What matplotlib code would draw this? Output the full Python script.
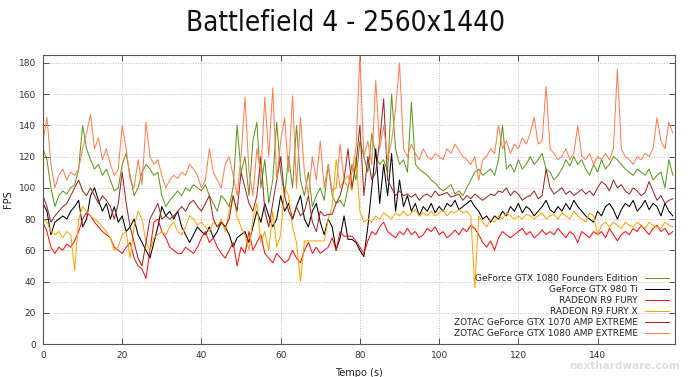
import matplotlib
matplotlib.use("Agg")
import matplotlib.pyplot as plt
import numpy as np

# Time axis, one sample per second
time_s = np.arange(160)

gtx1080_fe = [
    125, 118, 100, 88, 95, 98, 96, 100, 102, 112, 140, 125, 118, 112, 115, 108, 112, 105, 98, 100,
    115, 122, 108, 95, 100, 110, 115, 112, 108, 110, 95, 88, 92, 95, 98, 95, 100, 98, 102, 100,
    98, 102, 95, 90, 85, 95, 92, 88, 100, 140, 110, 120, 95, 130, 142, 100, 118, 90, 105, 142,
    110, 95, 120, 100, 140, 105, 95, 110, 88, 95, 100, 92, 115, 95, 90, 92, 88, 100, 115, 105,
    130, 120, 110, 135, 120, 115, 118, 110, 160, 125, 115, 118, 110, 155, 115, 112, 110, 108, 105, 103,
    100, 98, 100, 102, 96, 98, 95, 100, 105, 110, 112, 108, 110, 112, 108, 118, 140, 112, 115, 110,
    118, 112, 115, 120, 115, 118, 122, 112, 110, 105, 108, 112, 118, 114, 120, 115, 118, 112, 108, 115,
    110, 118, 112, 115, 120, 118, 115, 112, 110, 108, 112, 110, 108, 112, 105, 108, 110, 100, 118, 108,
]

gtx980ti = [
    90, 85, 70, 78, 80, 82, 80, 85, 88, 92, 75, 80, 95, 100, 92, 85, 90, 80, 88, 78,
    82, 72, 75, 80, 70, 65, 60, 55, 65, 75, 88, 82, 85, 80, 85, 75, 70, 65, 70, 75,
    72, 70, 75, 68, 72, 78, 75, 70, 62, 68, 70, 72, 65, 75, 85, 78, 90, 82, 75, 80,
    95, 85, 90, 80, 88, 95, 80, 75, 85, 90, 78, 70, 80, 75, 60, 68, 82, 67, 67, 65,
    60, 56, 75, 100, 125, 90, 115, 95, 122, 85, 105, 88, 95, 85, 90, 82, 88, 85, 90, 84,
    88, 85, 90, 88, 92, 86, 88, 90, 92, 88, 85, 80, 82, 78, 82, 80, 85, 82, 88, 85,
    90, 84, 88, 86, 82, 85, 88, 92, 86, 84, 88, 85, 90, 86, 92, 88, 85, 82, 80, 78,
    85, 82, 88, 90, 86, 80, 86, 90, 88, 92, 85, 88, 92, 86, 90, 88, 82, 90, 85, 82,
]

r9_fury = [
    78, 72, 62, 58, 62, 60, 64, 62, 66, 72, 80, 84, 82, 78, 75, 72, 70, 68, 62, 60,
    58, 62, 65, 55, 50, 48, 42, 60, 78, 80, 72, 68, 62, 60, 58, 58, 62, 60, 58, 62,
    68, 72, 65, 68, 62, 58, 55, 60, 65, 50, 62, 58, 72, 60, 65, 70, 58, 55, 52, 58,
    55, 52, 54, 60, 55, 52, 60, 65, 58, 62, 58, 60, 62, 68, 60, 72, 69, 69, 69, 66,
    62, 58, 66, 72, 70, 75, 78, 72, 70, 68, 72, 70, 74, 70, 72, 68, 70, 74, 72, 75,
    70, 72, 68, 70, 73, 70, 74, 72, 76, 74, 70, 65, 62, 66, 60, 68, 72, 70, 68, 70,
    72, 74, 70, 72, 68, 70, 73, 70, 72, 70, 74, 71, 68, 72, 70, 65, 72, 70, 68, 72,
    70, 72, 68, 74, 70, 66, 70, 72, 70, 74, 72, 76, 73, 70, 74, 76, 72, 74, 70, 72,
]

r9_fury_x = [
    80, 78, 72, 70, 72, 68, 72, 70, 47, 80, 88, 85, 82, 80, 78, 75, 72, 68, 60, 62,
    70, 72, 55, 75, 85, 80, 65, 60, 68, 70, 72, 70, 75, 78, 72, 70, 75, 82, 80, 76,
    78, 75, 72, 78, 75, 80, 72, 85, 95, 82, 75, 70, 60, 80, 90, 65, 72, 60, 85, 62,
    70, 100, 95, 75, 65, 40, 66, 66, 66, 66, 66, 66, 80, 88, 118, 100, 105, 108, 98, 120,
    85, 78, 80, 78, 82, 80, 84, 82, 80, 84, 82, 85, 82, 84, 86, 82, 84, 82, 85, 82,
    84, 86, 82, 85, 84, 86, 84, 85, 82, 36, 82, 78, 75, 80, 78, 82, 80, 84, 82, 80,
    82, 80, 83, 82, 80, 82, 84, 80, 82, 83, 80, 84, 82, 80, 85, 82, 80, 78, 84, 82,
    70, 76, 78, 75, 78, 76, 74, 78, 76, 75, 78, 76, 74, 78, 76, 75, 74, 78, 76, 75,
]

zotac1070_amp = [
    95, 88, 78, 82, 85, 88, 90, 95, 100, 105, 98, 95, 100, 95, 90, 95, 92, 88, 80, 90,
    110, 90, 75, 65, 55, 50, 65, 80, 85, 90, 80, 82, 80, 82, 85, 88, 85, 90, 92, 88,
    85, 90, 95, 80, 75, 78, 75, 80, 95, 85, 110, 100, 90, 85, 95, 120, 85, 75, 90, 105,
    120, 95, 85, 80, 88, 82, 85, 95, 78, 72, 85, 82, 83, 83, 90, 95, 105, 125, 100, 115,
    140, 95, 120, 105, 110, 130, 157, 105, 100, 95, 98, 95, 96, 94, 96, 92, 95, 96, 94, 98,
    95, 96, 97, 94, 95, 96, 92, 95, 93, 96, 94, 92, 94, 96, 95, 98, 97, 100, 95, 98,
    96, 92, 94, 95, 98, 93, 95, 112, 100, 96, 98, 100, 96, 98, 95, 97, 99, 96, 98, 95,
    100, 104, 102, 98, 105, 100, 102, 98, 96, 100, 98, 95, 97, 104, 98, 92, 95, 90, 92, 93,
]

zotac1080_amp = [
    130, 145, 115, 100, 108, 112, 105, 110, 108, 112, 125, 135, 147, 125, 132, 118, 125, 115, 108, 112,
    140, 125, 105, 100, 118, 102, 142, 120, 115, 118, 108, 100, 105, 108, 106, 110, 108, 115, 112, 108,
    100, 105, 125, 110, 105, 100, 115, 120, 108, 95, 120, 158, 110, 95, 125, 110, 158, 120, 164, 105,
    130, 145, 110, 159, 100, 145, 110, 95, 120, 105, 130, 100, 115, 98, 100, 128, 105, 100, 110, 125,
    185, 120, 130, 115, 169, 125, 140, 118, 130, 150, 180, 125, 120, 128, 122, 118, 125, 120, 118, 122,
    120, 118, 125, 122, 128, 124, 120, 118, 115, 120, 105, 118, 120, 125, 122, 140, 125, 130, 122, 128,
    125, 132, 128, 135, 145, 128, 130, 165, 125, 122, 118, 120, 125, 118, 122, 140, 120, 118, 122, 115,
    120, 118, 122, 118, 125, 176, 125, 120, 118, 115, 120, 118, 122, 120, 125, 145, 130, 125, 142, 135,
]

series_labels = [
    "GeForce GTX 1080 Founders Edition",
    "GeForce GTX 980 Ti",
    "RADEON R9 FURY",
    "RADEON R9 FURY X",
    "ZOTAC GeForce GTX 1070 AMP EXTREME",
    "ZOTAC GeForce GTX 1080 AMP EXTREME",
]
series_values = [gtx1080_fe, gtx980ti, r9_fury, r9_fury_x, zotac1070_amp, zotac1080_amp]
series_colors = ["#5f9a1f", "#000000", "#ff1010", "#ffa500", "#a02828", "#ff7f50"]

fig = plt.figure(figsize=(6.9, 3.77), dpi=100)
fig.patch.set_facecolor("white")
ax = fig.add_axes([0.0623, 0.0875, 0.9157, 0.7665])

for label, values, color in zip(series_labels, series_values, series_colors):
    ax.plot(time_s, values, color=color, lw=0.75, label=label)

ax.set_xlim(0, 159.5)
ax.set_ylim(0, 185)
ax.set_xticks(range(0, 160, 20))
ax.set_yticks(range(0, 181, 20))

# gnuplot-like frame: mirrored inward ticks and dotted grid
ax.grid(True, color="#dcb4b4", linestyle=":", lw=0.7)
ax.tick_params(direction="in", length=4, width=0.6, top=True, right=True,
               labelsize=6.5, colors="#333333", pad=5)
for spine in ax.spines.values():
    spine.set_color("#555555")
    spine.set_linewidth(0.8)

ax.set_xlabel("Tempo (s)", fontsize=7, color="#222222", labelpad=6)
ax.set_ylabel("FPS", fontsize=7, color="#222222", labelpad=4)

fig.suptitle("Battlefield 4 - 2560x1440", y=0.975, fontsize=20,
             family="DejaVu Sans", fontstretch="condensed", color="#111111")

leg = ax.legend(loc="lower right", markerfirst=False, frameon=False, fontsize=6.5,
                handlelength=2.6, labelspacing=0.22, borderaxespad=0.3)
for text in leg.get_texts():
    text.set_color("#222222")
    text.set_ha("right")

# faint watermark in the corner
fig.text(0.905, 0.028, "nexthardware.com", fontsize=7.5, color="#c8c8c8",
         alpha=0.6, ha="center", va="center", fontweight="bold")

fig.savefig("out.png", dpi=100)
